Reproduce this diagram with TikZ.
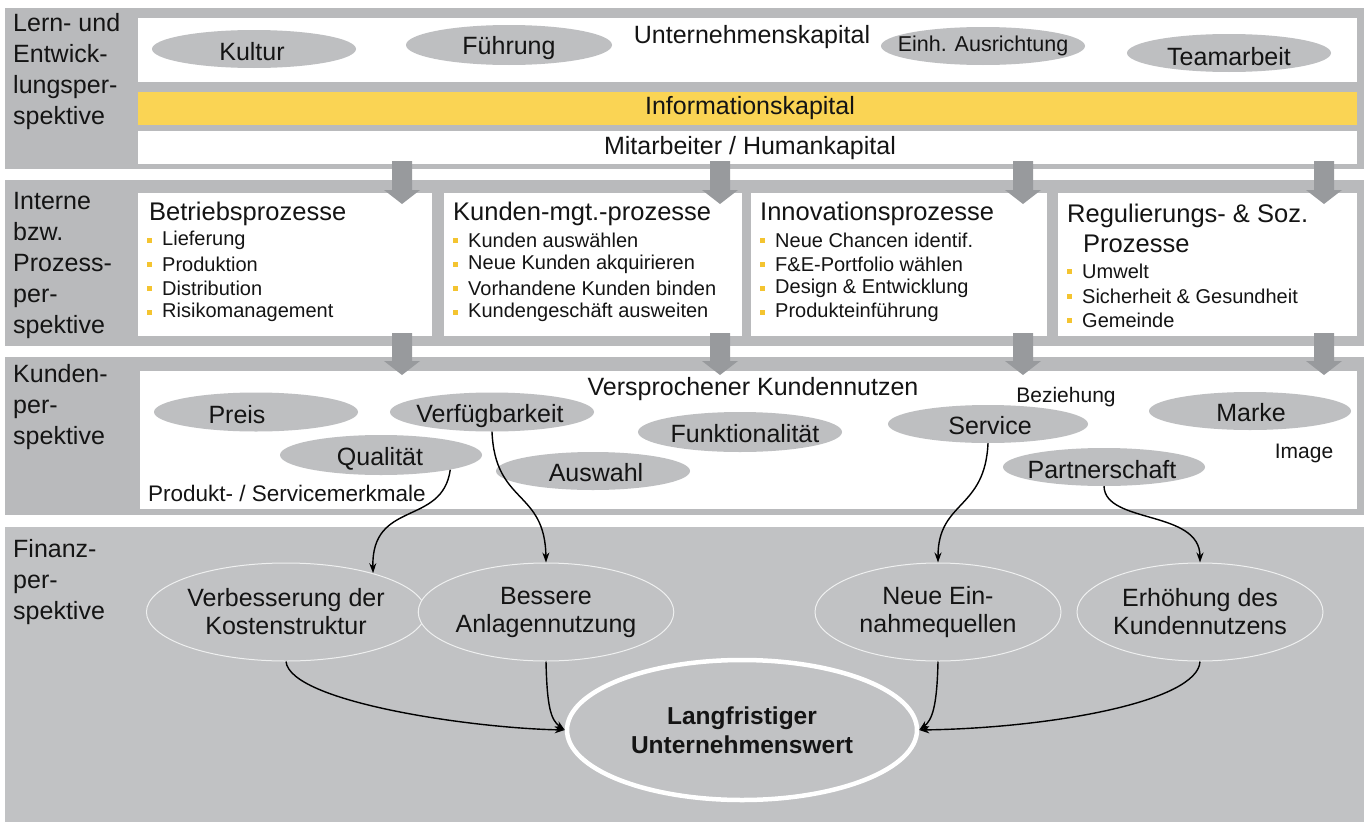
\documentclass[tikz,border=0pt]{standalone}
\usepackage{fontspec}
\setmainfont{Liberation Sans}
\usetikzlibrary{shapes.geometric,arrows.meta}
\definecolor{bandgray}{RGB}{185,186,188}
\definecolor{fingray}{RGB}{193,194,196}
\definecolor{ellgray}{RGB}{190,191,193}
\definecolor{arrgray}{RGB}{152,154,157}
\definecolor{infoyellow}{RGB}{250,212,84}
\definecolor{bulyellow}{RGB}{244,196,48}
\definecolor{txtcol}{RGB}{20,20,20}
\tikzset{
  lbl/.style={font=\fontsize{25}{31}\selectfont, align=left, anchor=north west, inner sep=0pt, text=txtcol},
  txt/.style={font=\fontsize{25}{30}\selectfont, inner sep=0pt, text=txtcol},
  smalltxt/.style={font=\fontsize{21}{24}\selectfont, inner sep=0pt, text=txtcol},
  ell/.style={ellipse, fill=ellgray, inner sep=0pt},
  boxtitle/.style={font=\fontsize{25.5}{30}\selectfont, anchor=west, inner sep=0pt, text=txtcol},
  item/.style={font=\fontsize{20}{24}\selectfont, anchor=west, inner sep=0pt, text=txtcol},
  bul/.style={fill=bulyellow, minimum width=5pt, minimum height=5pt, inner sep=0pt},
  fin/.style={ellipse, fill=fingray, draw=white!75!fingray, line width=1pt, minimum width=246pt, minimum height=98pt, inner sep=0pt, align=center, font=\fontsize{25}{28}\selectfont, text=txtcol},
  link/.style={-{Stealth[length=10pt,width=7pt]}, line width=1.4pt, black},
  band/.style={fill=bandgray, draw=none},
  panel/.style={fill=white, draw=none},
}
\begin{document}
\begin{tikzpicture}[x=1pt,y=-1pt]
\useasboundingbox (0,0) rectangle (1370,827);
\fill[white] (0,0) rectangle (1370,827);
% ---------- bands ----------
\fill[band] (5,8) rectangle (1364,169);
\fill[band] (5,180) rectangle (1364,346);
\fill[band] (5,357) rectangle (1364,515);
\fill[fingray] (5,527) rectangle (1364,822);
% band 1 panels
\fill[panel] (138,18) rectangle (1357,82);
\fill[infoyellow] (138,92) rectangle (1357,125);
\fill[panel] (138,131) rectangle (1357,164);
% band 2 boxes
\fill[panel] (138,193) rectangle (432,336);
\fill[panel] (444,193) rectangle (742,336);
\fill[panel] (751,193) rectangle (1047,336);
\fill[panel] (1058,193) rectangle (1357,336);
% band 3 panel
\fill[panel] (140,371) rectangle (1357,509);
% ---------- block arrows ----------
\foreach \c in {402,720,1023,1324}{
  \fill[arrgray] (\c-10,161) -- (\c+10,161) -- (\c+10,190) -- (\c+18,190) -- (\c,204) -- (\c-18,190) -- (\c-10,190) -- cycle;
  \fill[arrgray] (\c-10,333) -- (\c+10,333) -- (\c+10,361) -- (\c+18,361) -- (\c,375) -- (\c-18,361) -- (\c-10,361) -- cycle;
}
% ---------- left labels ----------
\node[lbl] (l1) at (13,13) {Lern- und\\Entwick-\\lungsper-\\spektive};
\node[lbl] (l2) at (13,192) {Interne\\bzw.\\Prozess-\\per-\\spektive};
\node[lbl] (l3) at (13,364) {Kunden-\\per-\\spektive};
\node[lbl] (l4) at (13,539) {Finanz-\\per-\\spektive};
% ---------- band 1 ----------
\node[ell, minimum width=204pt, minimum height=38pt] (kult) at (254,49) {};
\node[txt] (kultt) at (252,52) {Kultur};
\node[ell, minimum width=206pt, minimum height=40pt] (fuehr) at (509,45) {};
\node[txt] (fuehrt) at (509,48) {Führung};
\node[txt] (ukap) at (752,37) {Unternehmenskapital};
\node[ell, minimum width=204pt, minimum height=38pt] (einh) at (983,46) {};
\node[inner sep=0pt, font=\fontsize{21.5}{24}\selectfont, text=txtcol] (einht) at (983,46) {Einh. Ausrichtung};
\node[ell, minimum width=204pt, minimum height=38pt] (team) at (1229,53) {};
\node[txt] (teamt) at (1229,57) {Teamarbeit};
\node[txt] (info) at (750,108) {Informationskapital};
\node[txt] (mitarb) at (750,148) {Mitarbeiter / Humankapital};
% ---------- band 2 ----------
\node[boxtitle] (p1) at (149,214) {Betriebsprozesse};
\node[boxtitle] (p2) at (453,214) {Kunden-mgt.-prozesse};
\node[boxtitle] (p3) at (760,214) {Innovationsprozesse};
\node[boxtitle] (p4) at (1067,216) {Regulierungs- \& Soz.};
\node[boxtitle] (p4b) at (1083,244) {Prozesse};
\foreach \n/\y/\t in {a/240/Lieferung, b/264/Produktion, c/288/Distribution, d/312/Risikomanagement}{
  \node[bul] (b1\n) at (149,\y) {};
  \node[item] (t1\n) at (162,\y) {\t};
}
\foreach \n/\y/\t in {a/240/Kunden auswählen, b/264/Neue Kunden akquirieren, c/288/Vorhandene Kunden binden, d/312/Kundengeschäft ausweiten}{
  \node[bul] (b2\n) at (455,\y) {};
  \node[item] (t2\n) at (468,\y) {\t};
}
\foreach \n/\y/\t in {a/240/Neue Chancen identif., b/264/F\&E-Portfolio wählen, c/288/Design \& Entwicklung, d/312/Produkteinführung}{
  \node[bul] (b3\n) at (762,\y) {};
  \node[item] (t3\n) at (775,\y) {\t};
}
\foreach \n/\y/\t in {a/271/Umwelt, b/296/Sicherheit \& Gesundheit, c/320/Gemeinde}{
  \node[bul] (b4\n) at (1069,\y) {};
  \node[item] (t4\n) at (1082,\y) {\t};
}
% ---------- band 3 ----------
\node[txt] (vkn) at (753,389) {Versprochener Kundennutzen};
\node[smalltxt] (bez) at (1066,397) {Beziehung};
\node[ell, minimum width=204pt, minimum height=39pt] (preis) at (256,412) {};
\node[txt] (preist) at (237,415) {Preis};
\node[ell, minimum width=204pt, minimum height=39pt] (verf) at (492,412) {};
\node[txt] (verft) at (490,416) {Verfügbarkeit};
\node[ell, minimum width=204pt, minimum height=40pt] (funk) at (740,432) {};
\node[txt] (funkt) at (745,434) {Funktionalität};
\node[ell, minimum width=202pt, minimum height=40pt] (qual) at (381,455) {};
\node[txt] (qualt) at (380,459) {Qualität};
\node[ell, minimum width=194pt, minimum height=38pt] (ausw) at (593,471) {};
\node[txt] (auswt) at (596,473) {Auswahl};
\node[ell, minimum width=200pt, minimum height=38pt] (serv) at (988,424) {};
\node[txt] (servt) at (990,426) {Service};
\node[ell, minimum width=202pt, minimum height=38pt] (part) at (1104,467) {};
\node[txt] (partt) at (1102,470) {Partnerschaft};
\node[ell, minimum width=202pt, minimum height=38pt] (marke) at (1250,411) {};
\node[txt] (market) at (1251,413) {Marke};
\node[smalltxt] (image) at (1304,453) {Image};
\node[inner sep=0pt, anchor=west, font=\fontsize{22.5}{26}\selectfont, text=txtcol] (psm) at (148,493) {Produkt- / Servicemerkmale};
% ---------- band 4 ----------
\node[fin] (verb) at (286,612) {Verbesserung der\\Kostenstruktur};
\node[fin] (bess) at (546,612) {Bessere\\Anlagennutzung};
\node[fin] (neue) at (938,612) {Neue Ein-\\nahmequellen};
\node[fin] (erh) at (1200,612) {Erhöhung des\\Kundennutzens};
\node[ellipse, fill=fingray, draw=white, line width=4.5pt, minimum width=350pt, minimum height=140pt, inner sep=0pt, align=center, font=\fontsize{24.5}{29}\selectfont\bfseries, text=txtcol] (big) at (742,730) {Langfristiger\\Unternehmenswert};
% ---------- connectors ----------
\draw[link] (qual.-12) .. controls +(-8,57) and +(-2,-74) .. (verb.24);
\draw[link] (verf.south) .. controls +(3,73) and +(-1,-73) .. (bess.north);
\draw[link] (serv.south) .. controls +(-3,67) and +(0,-62) .. (neue.north);
\draw[link] (part.south) .. controls +(1,38) and +(0,-53) .. (erh.north);
\draw[link] (verb.south) .. controls +(4,40) and +(-96,-2) .. (big.west);
\draw[link] (bess.south) .. controls +(1,45) and +(-14,-10) .. (big.west);
\draw[link] (neue.south) .. controls +(-1,45) and +(13,-10) .. (big.east);
\draw[link] (erh.south) .. controls +(-2,40) and +(132,-2) .. (big.east);
\end{tikzpicture}
\end{document}
